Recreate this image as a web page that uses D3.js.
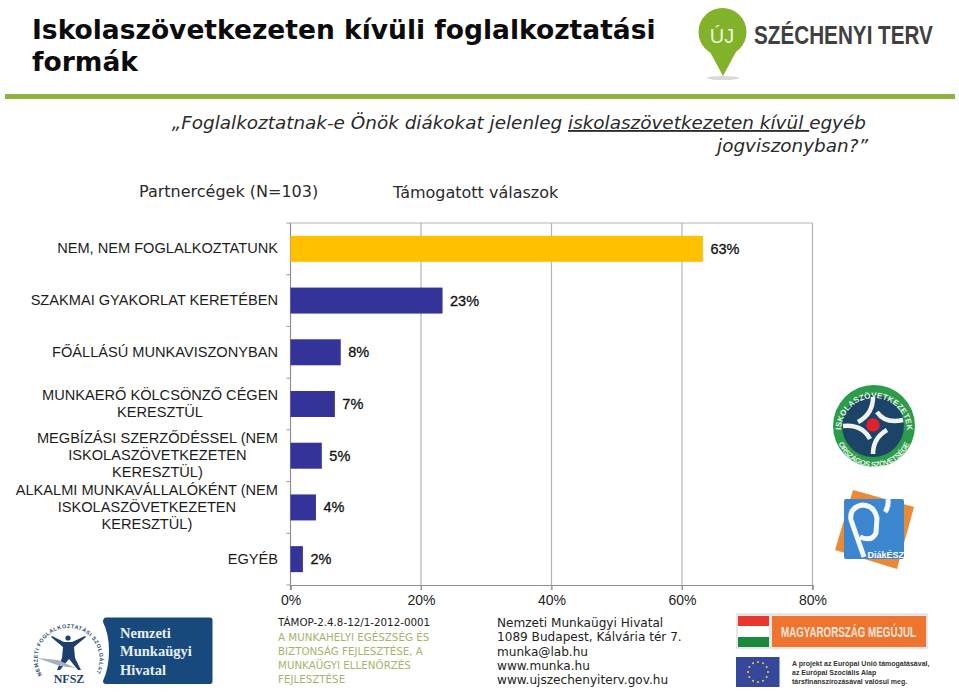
<!DOCTYPE html>
<html>
<head>
<meta charset="utf-8">
<script src="https://cdn.jsdelivr.net/npm/d3@7"></script>
<style>
    html, body { margin: 0; padding: 0; background: #fff; }
    svg { display: block; }
    text { fill: #111; }
</style>
</head>
<body>
<svg id="chart" width="959" height="700"></svg>
<script>
var categories = [
    ["NEM, NEM FOGLALKOZTATUNK"],
    ["SZAKMAI GYAKORLAT KERETÉBEN"],
    ["FŐÁLLÁSÚ MUNKAVISZONYBAN"],
    ["MUNKAERŐ KÖLCSÖNZŐ CÉGEN", "KERESZTÜL"],
    ["MEGBÍZÁSI SZERZŐDÉSSEL (NEM", "ISKOLASZÖVETKEZETEN", "KERESZTÜL)"],
    ["ALKALMI MUNKAVÁLLALÓKÉNT (NEM", "ISKOLASZÖVETKEZETEN", "KERESZTÜL)"],
    ["EGYÉB"]
];
var values = [63.2, 23.3, 7.7, 6.8, 4.8, 3.9, 1.9];
var valueLabels = ["63%", "23%", "8%", "7%", "5%", "4%", "2%"];
var xTicks = [0, 20, 40, 60, 80];
var titleLines = ["Iskolaszövetkezeten kívüli foglalkoztatási", "formák"];
var addressLines = ["Nemzeti Munkaügyi Hivatal", "1089 Budapest, Kálvária tér 7.", "munka@lab.hu", "www.munka.hu", "www.ujszechenyiterv.gov.hu"];
var projectLines = ["A MUNKAHELYI EGÉSZSÉG ÉS", "BIZTONSÁG FEJLESZTÉSE, A", "MUNKAÜGYI ELLENŐRZÉS", "FEJLESZTÉSE"];
var euLines = ["A projekt az Európai Unió támogatásával,", "az Európai Szociális Alap", "társfinanszírozásával valósul meg."];

var verdana = "'DejaVu Sans', sans-serif";
var arial = "'Liberation Sans', Arial, sans-serif";
var svg = d3.select("#chart");

var x = d3.scaleLinear().domain([0, 80]).range([290.5, 812.5]);
var y = d3.scaleBand().domain(d3.range(categories.length)).range([223, 585]);

// squeeze a logo text sideways until it is as wide as the logo lettering
function condense(sel, left, baseline, width) {
    var w = sel.node().getComputedTextLength();
    sel.attr("transform", "translate(" + left + "," + baseline + ") scale(" + (width / w) + ",1)");
}

// header
svg.selectAll("text.title").data(titleLines).enter().append("text")
    .attr("class", "title")
    .attr("x", 32)
    .attr("y", function (d, i) { return 39 + i * 31.5; })
    .attr("font-family", verdana).attr("font-weight", "bold").attr("font-size", 26.5)
    .style("fill", "#0c0c0c")
    .text(function (d) { return d; });

svg.append("rect").attr("x", 5).attr("y", 94).attr("width", 950).attr("height", 5).attr("fill", "#8fb33e");

var question = svg.append("text")
    .attr("x", 866).attr("y", 129)
    .attr("text-anchor", "end")
    .attr("font-family", verdana).attr("font-style", "italic").attr("font-size", 18.4)
    .style("fill", "#2a2a2a");
question.append("tspan").text("„Foglalkoztatnak-e Önök diákokat jelenleg ");
question.append("tspan").attr("text-decoration", "underline").text("iskolaszövetkezeten kívül ");
question.append("tspan").text("egyéb");

svg.append("text")
    .attr("x", 868).attr("y", 152)
    .attr("text-anchor", "end")
    .attr("font-family", verdana).attr("font-style", "italic").attr("font-size", 18.4)
    .style("fill", "#2a2a2a")
    .text("jogviszonyban?”");

svg.append("text").attr("x", 139).attr("y", 197)
    .attr("font-family", verdana).attr("font-size", 16).style("fill", "#2a2a2a")
    .text("Partnercégek (N=103)");
svg.append("text").attr("x", 393).attr("y", 198)
    .attr("font-family", verdana).attr("font-size", 16).style("fill", "#2a2a2a")
    .text("Támogatott válaszok");

// grid and axes
var grid = svg.append("g");
grid.selectAll("line.grid").data(xTicks).enter().append("line")
    .attr("class", "grid")
    .attr("x1", function (d) { return x(d); })
    .attr("x2", function (d) { return x(d); })
    .attr("y1", y.range()[0])
    .attr("y2", y.range()[1] + 5)
    .attr("stroke", function (d) { return d === 0 ? "#8f8f8f" : "#b4b4b4"; })
    .attr("stroke-width", 1.2);
grid.append("line")
    .attr("x1", x(0)).attr("x2", x(80))
    .attr("y1", y.range()[0]).attr("y2", y.range()[0])
    .attr("stroke", "#b4b4b4").attr("stroke-width", 1.2);

// category ticks sit on the band edges
grid.selectAll("line.edge").data(d3.range(categories.length + 1)).enter().append("line")
    .attr("class", "edge")
    .attr("x1", x(0) - 4)
    .attr("x2", x(0))
    .attr("y1", function (d) { return y.range()[0] + d * y.step(); })
    .attr("y2", function (d) { return y.range()[0] + d * y.step(); })
    .attr("stroke", "#9a9a9a");

var xAxis = svg.append("g")
    .attr("transform", "translate(0," + y.range()[1] + ")")
    .call(d3.axisBottom(x).tickValues(xTicks).tickSize(5).tickPadding(5).tickFormat(function (d) { return d + "%"; }));
xAxis.select(".domain").attr("stroke", "#8f8f8f").attr("stroke-width", 1.2);
xAxis.selectAll(".tick line").attr("stroke", "#8f8f8f");
xAxis.selectAll("text")
    .attr("font-family", arial).attr("font-size", 14).style("fill", "#222");

// bars
svg.selectAll("rect.bar").data(values).enter().append("rect")
    .attr("class", "bar")
    .attr("x", x(0))
    .attr("y", function (d, i) { return y(i) + y.bandwidth() / 2 - 13; })
    .attr("width", function (d) { return x(d) - x(0); })
    .attr("height", 26)
    .attr("fill", function (d, i) { return i === 0 ? "#ffc000" : "#333399"; });

svg.selectAll("text.value").data(values).enter().append("text")
    .attr("class", "value")
    .attr("x", function (d) { return x(d) + 7.5; })
    .attr("y", function (d, i) { return y(i) + y.bandwidth() / 2 + 5; })
    .attr("font-family", arial).attr("font-size", 14.5)
    .attr("stroke", "#111").attr("stroke-width", 0.3)
    .text(function (d, i) { return valueLabels[i]; });

// category labels: centred block whose widest line ends at 278
categories.forEach(function (lines, i) {
    var g = svg.append("g");
    var t = g.selectAll("text").data(lines).enter().append("text")
        .attr("y", function (d, j) {
            return y(i) + y.bandwidth() / 2 + 4.5 + (j - (lines.length - 1) / 2) * 17;
        })
        .attr("text-anchor", "middle")
        .attr("font-family", arial).attr("font-size", 14.6).style("fill", "#1c1c1c")
        .text(function (d) { return d; });
    var widest = d3.max(t.nodes(), function (n) { return n.getComputedTextLength(); });
    t.attr("x", 278 - widest / 2);
});

// footer text
var footer = svg.append("g").attr("font-family", verdana);
footer.append("text").attr("x", 278).attr("y", 626).attr("font-size", 10.3).style("fill", "#222")
    .text("TÁMOP-2.4.8-12/1-2012-0001");
footer.selectAll("text.project").data(projectLines).enter().append("text")
    .attr("class", "project")
    .attr("x", 278)
    .attr("y", function (d, i) { return 640.5 + i * 14; })
    .attr("font-size", 10.3)
    .style("fill", "#a9b26c")
    .text(function (d) { return d; });
footer.selectAll("text.address").data(addressLines).enter().append("text")
    .attr("class", "address")
    .attr("x", 497)
    .attr("y", function (d, i) { return 627 + i * 14.3; })
    .attr("font-size", 12.1)
    .style("fill", "#222")
    .text(function (d) { return d; });

// Uj Szechenyi Terv logo
var terv = svg.append("g");
terv.append("ellipse").attr("cx", 723).attr("cy", 78).attr("rx", 16).attr("ry", 2).attr("fill", "#d8d8d8");
terv.append("path").attr("d", "M709,50 L723,76 L737,50 Z").attr("fill", "#82b22a");
terv.append("circle").attr("cx", 722.5).attr("cy", 32).attr("r", 24).attr("fill", "#82b22a");
terv.append("text").attr("x", 722).attr("y", 43).attr("text-anchor", "middle")
    .attr("font-family", arial).attr("font-size", 20)
    .style("fill", "#eef5dd").text("ÚJ");
var tervName = terv.append("text")
    .attr("font-family", arial).attr("font-weight", "bold").attr("font-size", 25)
    .style("fill", "#404040").text("SZÉCHENYI TERV");
condense(tervName, 754, 43.5, 179);

// NFSZ logo
var nfsz = svg.append("g");
nfsz.append("path").attr("id", "nfszArc").attr("d", "M42,675 A31,31 0 1 1 95,675").attr("fill", "none");
nfsz.append("text").attr("font-family", arial).attr("font-weight", "bold").attr("font-size", 5.4)
    .style("fill", "#28496f")
    .append("textPath").attr("href", "#nfszArc").attr("textLength", 128).text("NEMZETI FOGLALKOZTATÁSI SZOLGÁLAT");
nfsz.append("circle").attr("cx", 68).attr("cy", 638).attr("r", 2.6).attr("fill", "#1d3f6e");
nfsz.append("path")
    .attr("d", "M52,636 L64,642 L72,642 L85,636 L86,637 L74,647 L75,658 L81,670 L78,670 L69,659 L60,670 L57,670 L62,658 L63,647 L51,637 Z")
    .attr("fill", "#1d3f6e");
nfsz.append("path").attr("d", "M37,658 L58,660 L76,668 L60,666 Z").attr("fill", "#a9b0bd");
nfsz.append("text").attr("x", 69).attr("y", 683).attr("text-anchor", "middle")
    .attr("font-family", "'Liberation Serif', serif").attr("font-weight", "bold").attr("font-size", 12)
    .style("fill", "#1d3f6e").text("NFSZ");
nfsz.append("path")
    .attr("d", "M106,617.5 H210 Q212.500,617.500 212.500,620 V681 Q212.500,684 210,684 H106 Q103,684 103,681 Q109,668 109,651 Q109,634 103,622 Q103,617.500 106,617.500 Z")
    .attr("fill", "#17497d");
nfsz.selectAll("text.nfszName").data(["Nemzeti", "Munkaügyi", "Hivatal"]).enter().append("text")
    .attr("class", "nfszName")
    .attr("x", 120)
    .attr("y", function (d, i) { return 637.5 + i * 18.5; })
    .attr("font-family", "'Liberation Serif', serif").attr("font-weight", "bold").attr("font-size", 14.5)
    .style("fill", "#e8eef5")
    .text(function (d) { return d; });

// Magyarorszag megujul and EU flag
var hu = svg.append("g");
hu.append("rect").attr("x", 736).attr("y", 613).attr("width", 192).attr("height", 36).attr("fill", "#e6e6e6");
hu.append("rect").attr("x", 738).attr("y", 616).attr("width", 31).attr("height", 10).attr("fill", "#e8372c");
hu.append("rect").attr("x", 738).attr("y", 626).attr("width", 31).attr("height", 11).attr("fill", "#ffffff");
hu.append("rect").attr("x", 738).attr("y", 637).attr("width", 31).attr("height", 10).attr("fill", "#1b8a3e");
hu.append("rect").attr("x", 772).attr("y", 616).attr("width", 154).attr("height", 31).attr("fill", "#ee7430");
var huName = hu.append("text")
    .attr("font-family", arial).attr("font-weight", "bold").attr("font-size", 15)
    .style("fill", "#f6e6d8").text("MAGYARORSZÁG MEGÚJUL");
condense(huName, 781, 637, 135);
hu.append("rect").attr("x", 736).attr("y", 657).attr("width", 43.500).attr("height", 30).attr("fill", "#34479a");
hu.selectAll("circle.star").data(d3.range(12)).enter().append("circle")
    .attr("class", "star")
    .attr("cx", function (d) { return 758 + 10 * Math.sin(d * Math.PI / 6); })
    .attr("cy", function (d) { return 672 - 10 * Math.cos(d * Math.PI / 6); })
    .attr("r", 1)
    .attr("fill", "#f2d21e");
hu.selectAll("text.eu").data(euLines).enter().append("text")
    .attr("class", "eu")
    .attr("x", 792)
    .attr("y", function (d, i) { return 665.5 + i * 9; })
    .attr("font-family", arial).attr("font-weight", "bold").attr("font-size", 7)
    .style("fill", "#333")
    .text(function (d) { return d; });

// Iskolaszovetkezetek seal
var seal = svg.append("g");
seal.append("circle").attr("cx", 874).attr("cy", 426).attr("r", 41).attr("fill", "#2c9b4a");
seal.append("circle").attr("cx", 873).attr("cy", 426).attr("r", 31).attr("fill", "#1c4468");
seal.append("path")
    .attr("d", "M873,397 Q873,414 858,422 M903,420 Q885,424 877,412 M873,454 Q873,438 887,430 M843,426 Q862,424 870,439")
    .attr("fill", "none").attr("stroke", "#f2f2f2").attr("stroke-width", 4.5);
seal.append("circle").attr("cx", 873).attr("cy", 425).attr("r", 6.7).attr("fill", "#e3202e");
seal.append("path").attr("id", "sealTop").attr("d", "M841,431 A33,33 0 0 1 907,431").attr("fill", "none");
seal.append("path").attr("id", "sealBottom").attr("d", "M835,428 A39,39 0 0 0 913,428").attr("fill", "none");
seal.append("text").attr("font-family", arial).attr("font-weight", "bold").attr("font-size", 8)
    .style("fill", "#e8f4e8")
    .append("textPath").attr("href", "#sealTop").attr("startOffset", 1).attr("textLength", 102).text("ISKOLASZÖVETKEZETEK");
seal.append("text").attr("font-family", arial).attr("font-weight", "bold").attr("font-size", 7.5)
    .style("fill", "#e8f4e8")
    .append("textPath").attr("href", "#sealBottom").attr("startOffset", 16).attr("textLength", 90).text("ORSZÁGOS SZÖVETSÉGE");

// DiakESZ logo
var diak = svg.append("g");
diak.append("path").attr("d", "M853,490 L914,507 L897,569 L835,550 Z").attr("fill", "#ea8a35");
diak.append("rect").attr("x", 844).attr("y", 499).attr("width", 60).attr("height", 60).attr("rx", 2).attr("fill", "#3c85cf");
diak.append("path")
    .attr("d", "M864,557 L851,520 Q849,508 862,505 Q874,505 877,518 L876,533 Q872,542 860,537")
    .attr("fill", "none").attr("stroke", "#f4f8fc").attr("stroke-width", 5);
diak.append("path").attr("d", "M888,499 Q889,507 885,512").attr("fill", "none").attr("stroke", "#f4f8fc").attr("stroke-width", 5);
diak.append("text").attr("x", 904).attr("y", 558).attr("text-anchor", "end")
    .attr("font-family", arial).attr("font-weight", "bold").attr("font-size", 9)
    .style("fill", "#fff").text("DiákÉSZ");
</script>
</body>
</html>
